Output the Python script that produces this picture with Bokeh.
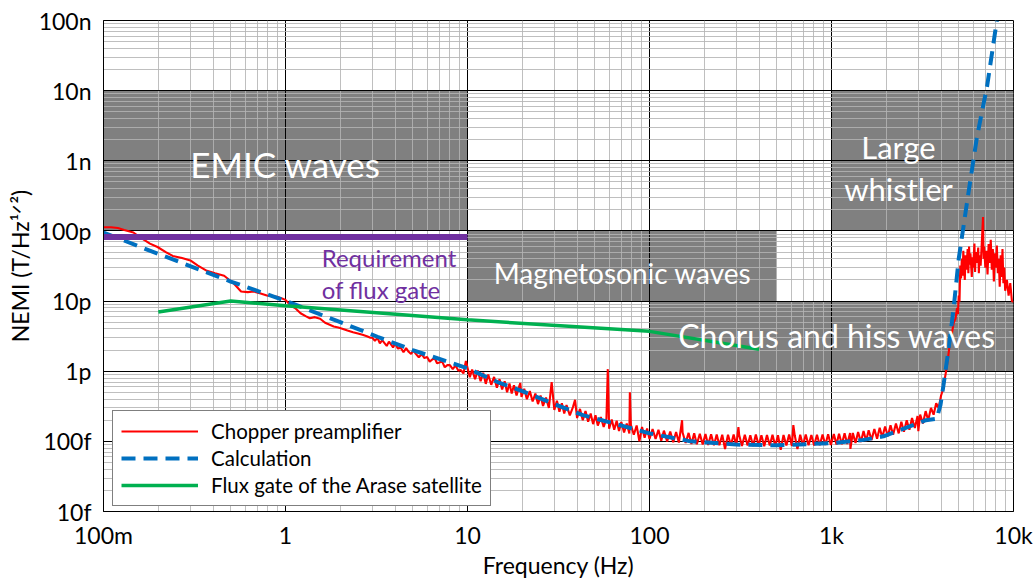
from bokeh.plotting import figure
from bokeh.models import (FixedTicker, CustomJSTickFormatter, Label, Legend,
                          LegendItem, Range1d)
from bokeh.embed import file_html
from bokeh.resources import INLINE

# ---------------- data (NEMI in pT/Hz^1/2, frequency in Hz) ----------------
x_ticks = [0.1, 1, 10, 100, 1000, 10000]
x_tick_labels = ["100m", "1", "10", "100", "1k", "10k"]
y_ticks = [0.01, 0.1, 1, 10, 100, 1000, 10000, 100000]
y_tick_labels = ["10f", "100f", "1p", "10p", "100p", "1n", "10n", "100n"]

band_names = ["EMIC waves", "Magnetosonic waves", "Chorus and hiss waves", "Large whistler"]
band_f_lo = [0.1, 10, 100, 1000]
band_f_hi = [10, 500, 10000, 10000]
band_b_lo = [100, 10, 1, 100]
band_b_hi = [10000, 100, 10, 10000]

req_freq = [0.1, 10]
req_nemi = [82, 82]

fluxgate_freq = [0.2, 0.5, 1, 10, 100, 400]
fluxgate_nemi = [7.0, 10.0, 8.6, 5.4, 3.7, 2.05]

calc_freq = [0.1, 0.2, 0.5, 1, 1.43, 2, 3.2, 5, 10, 15, 20, 30, 43, 72, 100, 168,
             300, 500, 1000, 1500, 1930, 2800, 3300, 3800, 3870, 3970, 4120, 4400,
             4560, 4700, 5000, 5560, 6300, 7160, 8100]
calc_nemi = [95, 47, 19, 10.1, 7.0, 5.0, 3.1, 2.0, 1.1, 0.68, 0.52, 0.34, 0.237,
             0.165, 0.13, 0.1, 0.09, 0.088, 0.094, 0.105, 0.118, 0.17, 0.2, 0.21,
             0.26, 0.33, 0.62, 2.1, 4.4, 8.4, 40, 260, 2200, 11500, 100000]

chopper_pts = [
    (0.1, 113), (0.11, 113), (0.12, 110), (0.13, 103), (0.146, 95), (0.16, 80),
    (0.18, 66), (0.198, 59), (0.22, 50), (0.24, 44), (0.27, 41), (0.3, 38),
    (0.33, 32), (0.37, 27), (0.41, 25), (0.46, 23), (0.52, 17.8), (0.57, 13.7),
    (0.62, 13.4), (0.67, 13.7), (0.73, 12.8), (0.79, 12), (0.85, 11.7), (0.9, 11.5),
    (0.95, 11), (1.0, 10.4), (1.07, 8.6), (1.14, 7.8), (1.21, 6.7), (1.29, 6.1),
    (1.36, 5.7), (1.45, 5.9), (1.55, 5.6), (1.65, 4.9), (1.75, 4.6), (1.84, 4.35),
    (1.95, 4.2), (2.07, 4.0), (2.19, 3.8), (2.35, 3.6), (2.5, 3.45), (2.65, 3.3),
    (2.8, 3.15), (2.93, 3.0),
    (3.0, 3.0), (3.1, 2.72), (3.2, 2.99), (3.3, 2.5), (3.4, 2.77), (3.5, 2.52),
    (3.6, 2.29), (3.7, 2.64), (3.8, 2.41), (3.9, 2.18), (4.0, 2.49), (4.15, 2.1),
    (4.3, 2.16), (4.45, 1.86), (4.6, 2.13), (4.75, 1.89), (4.9, 1.76), (5.05, 1.98),
    (5.2, 1.77), (5.4, 1.58), (5.6, 1.75), (5.8, 1.54), (6.0, 1.6), (6.2, 1.37),
    (6.4, 1.47), (6.6, 1.54), (6.8, 1.3), (7.0, 1.33), (7.25, 1.38), (7.5, 1.14),
    (7.75, 1.22), (8.0, 1.22), (8.3, 1.07), (8.6, 1.21), (8.9, 1.02), (9.2, 1.04),
    (9.5, 0.93), (9.8, 1.4),
    (10.0, 1.12), (10.3, 0.82), (10.6, 1.06), (11.0, 0.77), (11.4, 1.02), (11.8, 0.72),
    (12.2, 0.95), (12.6, 0.66), (13.0, 0.9), (13.5, 0.64), (14.0, 0.83), (14.5, 0.58),
    (15.0, 0.77), (15.5, 0.55), (16.0, 0.72), (16.5, 0.5), (17.0, 0.67), (17.5, 0.48),
    (18.0, 0.63), (18.6, 0.45), (19.2, 0.6), (19.5, 0.68), (19.8, 0.43), (20.5, 0.56),
    (21.2, 0.4), (22.0, 0.52), (22.8, 0.37), (23.6, 0.48), (24.4, 0.34), (25.2, 0.45),
    (26.0, 0.32), (27.0, 0.42), (28.0, 0.3), (29.0, 0.7), (30.0, 0.28), (31.0, 0.38),
    (32.0, 0.265), (33.0, 0.35), (34.0, 0.25), (35.0, 0.33), (36.5, 0.235), (38.0, 0.31),
    (39.0, 0.39), (40.0, 0.215), (41.5, 0.29), (43.0, 0.2), (44.5, 0.27), (46.0, 0.19),
    (47.5, 0.25), (49.0, 0.176), (50.5, 0.235), (52.0, 0.168), (54.0, 0.222), (56.0, 0.16),
    (58.0, 0.212), (59.0, 1.07), (60.0, 0.152), (62.0, 0.205), (64.0, 0.146), (66.0, 0.196),
    (68.0, 0.14), (70.0, 0.188), (72.5, 0.134), (75.0, 0.18), (77.5, 0.13), (78.0, 0.5),
    (79.0, 0.172), (82.0, 0.124), (85.0, 0.168), (88.0, 0.1), (91.0, 0.16), (94.0, 0.113),
    (97.0, 0.152), (100, 0.108),
    (104, 0.15), (108, 0.108), (112, 0.146), (116, 0.102), (120, 0.142), (125, 0.1),
    (130, 0.138), (135, 0.097), (140, 0.136), (145, 0.096), (151, 0.2), (152, 0.134),
    (158, 0.095), (164, 0.132), (170, 0.092), (176, 0.13), (182, 0.091), (189, 0.128),
    (196, 0.09), (203, 0.127), (210, 0.089), (218, 0.126), (226, 0.088), (234, 0.125),
    (242, 0.088), (251, 0.124), (260, 0.078), (270, 0.124), (280, 0.088), (290, 0.125),
    (300, 0.087), (308, 0.16), (311, 0.123), (322, 0.086), (334, 0.124), (346, 0.087),
    (358, 0.122), (371, 0.086), (384, 0.125), (398, 0.087), (412, 0.122), (427, 0.085),
    (442, 0.123), (458, 0.087), (474, 0.124), (491, 0.086), (508, 0.122), (526, 0.076),
    (545, 0.123), (565, 0.087), (585, 0.125), (606, 0.086), (617, 0.17), (628, 0.122),
    (650, 0.078), (673, 0.124), (697, 0.087), (722, 0.125), (748, 0.088), (775, 0.123),
    (803, 0.087), (832, 0.124), (862, 0.088), (893, 0.125), (925, 0.089), (958, 0.126),
    (992, 0.089),
    (1030, 0.127), (1065, 0.09), (1100, 0.128), (1140, 0.091), (1180, 0.13), (1220, 0.092),
    (1265, 0.131), (1270, 0.078), (1310, 0.132), (1355, 0.095), (1400, 0.136), (1450, 0.098),
    (1500, 0.14), (1550, 0.101), (1600, 0.144), (1660, 0.105), (1720, 0.15), (1780, 0.109),
    (1840, 0.156), (1900, 0.114), (1970, 0.163), (2040, 0.118), (2110, 0.17), (2180, 0.124),
    (2260, 0.18), (2340, 0.13), (2420, 0.19), (2500, 0.137), (2590, 0.2), (2680, 0.146),
    (2770, 0.215), (2870, 0.155), (2970, 0.23), (3000, 0.14), (3070, 0.24), (3180, 0.18),
    (3290, 0.27), (3400, 0.2), (3520, 0.3), (3640, 0.24), (3760, 0.35), (3880, 0.3),
    (4000, 0.45),
    (4100, 0.55), (4200, 0.8), (4300, 1.15), (4400, 1.8), (4500, 2.9), (4600, 3.6),
    (4700, 5.0), (4800, 5.6), (4900, 8.0), (4950, 6.5), (5000, 12), (5050, 9.8),
    (5100, 32), (5150, 21), (5200, 40), (5250, 23), (5300, 52), (5350, 30),
    (5400, 20), (5450, 45), (5500, 28), (5600, 55), (5650, 25), (5700, 60),
    (5750, 33), (5800, 48), (5900, 22), (5950, 42), (6000, 30), (6100, 66),
    (6150, 26), (6200, 50), (6300, 35), (6400, 58), (6450, 25), (6500, 45),
    (6600, 32), (6700, 70), (6800, 158), (6850, 40), (6900, 60), (7000, 30),
    (7100, 52), (7200, 24), (7300, 65), (7400, 35), (7500, 75), (7600, 28),
    (7700, 55), (7800, 19), (7900, 48), (8000, 30), (8100, 62), (8200, 25),
    (8300, 40), (8400, 16), (8500, 45), (8600, 22), (8700, 55), (8800, 18),
    (8900, 30), (9000, 14), (9200, 20), (9400, 12), (9600, 18), (9800, 10),
    (10000, 9.8),
]
chopper_freq = [f for f, v in chopper_pts]
chopper_nemi = [v for f, v in chopper_pts]

# ---------------- figure ----------------
FONT = "Lato"

p = figure(width=1033, height=581, x_axis_type="log", y_axis_type="log",
           x_range=Range1d(0.1, 10000), y_range=Range1d(0.01, 100000),
           output_backend="svg", toolbar_location=None,
           min_border_left=103, min_border_right=20, min_border_top=20,
           min_border_bottom=68)
p.background_fill_color = "white"
p.border_fill_color = "white"
p.outline_line_color = "black"
p.outline_line_width = 1

x_minor = [m * 10.0 ** d for d in range(-1, 4) for m in range(2, 10)]
y_minor = [m * 10.0 ** d for d in range(-2, 5) for m in range(2, 10)]
xt = FixedTicker(ticks=x_ticks, minor_ticks=x_minor)
yt = FixedTicker(ticks=y_ticks, minor_ticks=y_minor)
p.xaxis.ticker = xt
p.yaxis.ticker = yt
p.xgrid.ticker = xt
p.ygrid.ticker = yt

fmt_code = """
const i = tvals.findIndex(t => Math.abs(Math.log10(t) - Math.log10(tick)) < 1e-6);
return i >= 0 ? tlabels[i] : "";
"""
p.xaxis.formatter = CustomJSTickFormatter(args=dict(tvals=x_ticks, tlabels=x_tick_labels), code=fmt_code)
p.yaxis.formatter = CustomJSTickFormatter(args=dict(tvals=y_ticks, tlabels=y_tick_labels), code=fmt_code)

for g in (p.xgrid, p.ygrid):
    g.grid_line_color = "black"
    g.grid_line_width = 1
    g.minor_grid_line_color = "#b4b4b4"
    g.minor_grid_line_alpha = 0.85
    g.minor_grid_line_width = 1

for ax in (p.xaxis, p.yaxis):
    ax.major_tick_line_color = None
    ax.minor_tick_line_color = None
    ax.axis_line_color = "black"
    ax.major_label_text_font = FONT
    ax.major_label_text_font_size = "23px"
    ax.major_label_text_color = "black"
    ax.axis_label_text_font = FONT
    ax.axis_label_text_font_size = "23px"
    ax.axis_label_text_font_style = "normal"
    ax.axis_label_text_color = "black"

p.xaxis.axis_label = "Frequency (Hz)"
p.yaxis.axis_label = "NEMI (T/Hz\u00b9\u141f\u00b2)"
p.xaxis.major_label_standoff = 3
p.yaxis.major_label_standoff = 6
p.xaxis.axis_label_standoff = -1
p.yaxis.axis_label_standoff = 2

# wave bands (drawn beneath the grid)
p.quad(left=band_f_lo, right=band_f_hi, bottom=band_b_lo, top=band_b_hi,
       fill_color="#808080", line_color=None, level="image")

r_red = p.line(chopper_freq, chopper_nemi, line_color="#ff0000", line_width=2.1)
r_blue = p.line(calc_freq, calc_nemi, line_color="#0070c0", line_width=4,
                line_dash="14 8")
r_green = p.line(fluxgate_freq, fluxgate_nemi, line_color="#00b050", line_width=3.5)
p.line(req_freq, req_nemi, line_color="#7030a0", line_width=6)

# band labels
def add_label(x, y, text, size, color="white", align="center"):
    p.add_layout(Label(x=x, y=y, text=text, text_font=FONT, text_font_size=size,
                       text_color=color, text_align=align,
                       text_baseline="alphabetic"))

add_label(1.0, 900, band_names[0], "35px")
add_label(71, 25.5, band_names[1], "28px")
add_label(1072, 3.25, band_names[2], "32px")
add_label(2334, 1566, "Large", "31px")
add_label(2334, 397, "whistler", "31px")
add_label(1.58, 41.6, "Requirement", "24px", color="#7030a0", align="left")
add_label(1.58, 14.6, "of flux gate", "24px", color="#7030a0", align="left")

legend = Legend(items=[
    LegendItem(label="Chopper preamplifier", renderers=[r_red]),
    LegendItem(label="Calculation", renderers=[r_blue]),
    LegendItem(label="Flux gate of the Arase satellite", renderers=[r_green]),
], location=(9, 5))
legend.label_text_font = FONT
legend.label_text_font_size = "20.5px"
legend.label_text_color = "black"
legend.glyph_width = 77
legend.glyph_height = 20
legend.label_height = 20
legend.label_standoff = 13
legend.spacing = 3
legend.padding = 8
legend.margin = 0
legend.border_line_color = "black"
legend.border_line_width = 1.5
legend.background_fill_color = "white"
legend.background_fill_alpha = 1
p.add_layout(legend)

open("out.html", "w").write(file_html(p, INLINE))
